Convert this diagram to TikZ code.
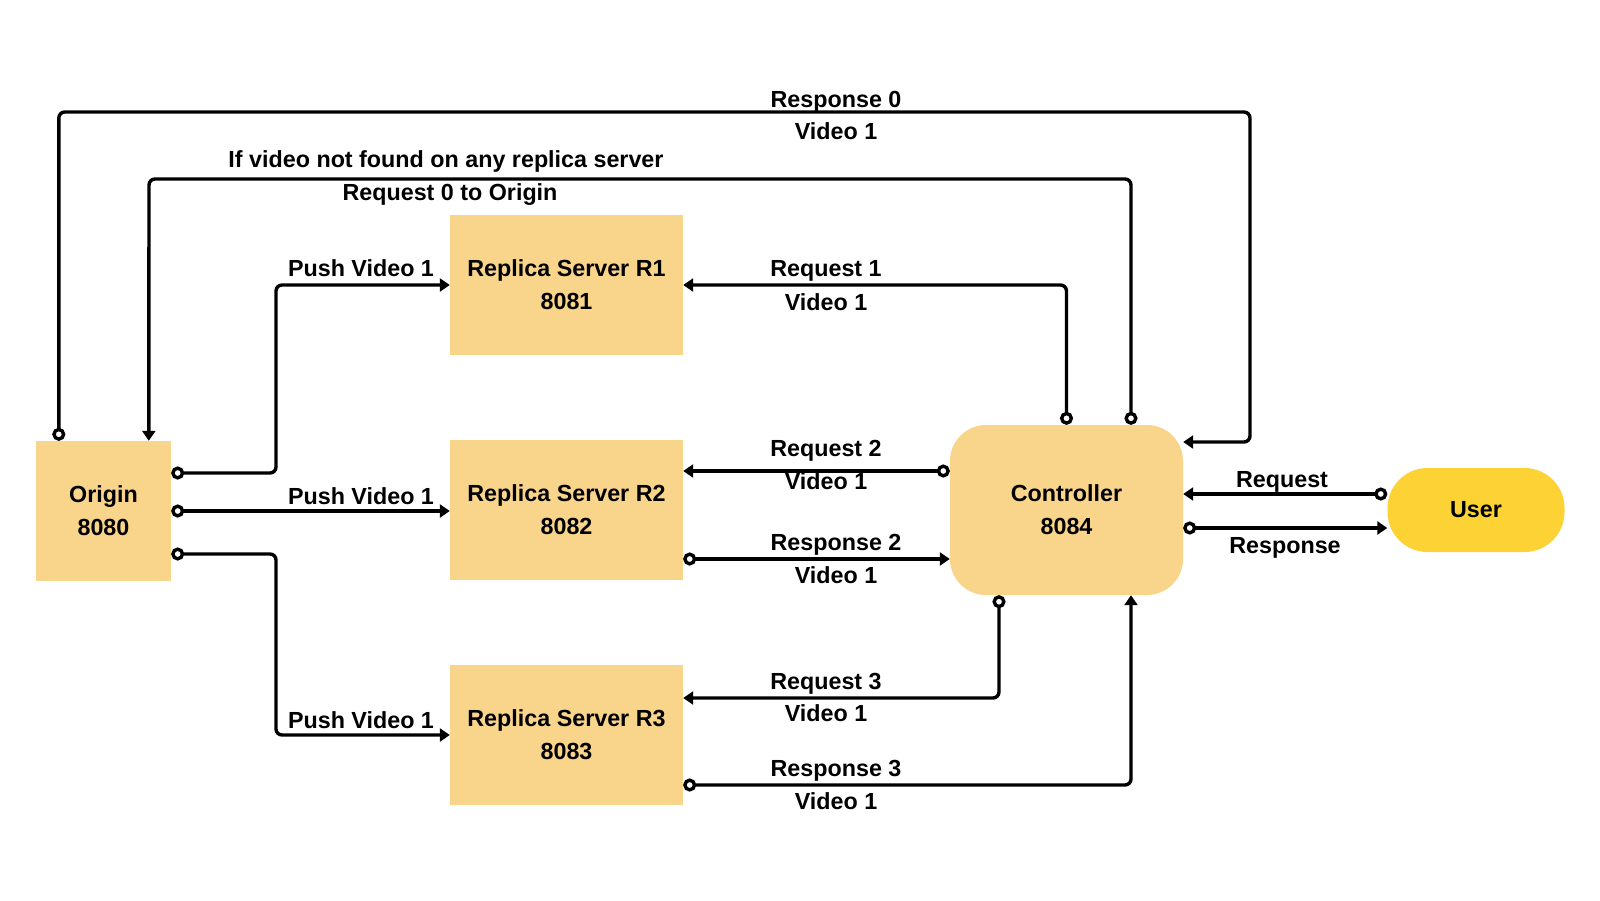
\documentclass[tikz,border=0pt]{standalone}
\usepackage{fontspec}
\setmainfont{Liberation Sans}
\usetikzlibrary{arrows.meta}
\definecolor{boxc}{HTML}{F9D48B}
\definecolor{userc}{HTML}{FDD235}
\begin{document}
\begin{tikzpicture}[x=1pt,y=-1pt,
  every node/.style={font=\fontsize{23.3}{33}\selectfont\bfseries, inner sep=0pt},
  box/.style={fill=boxc, draw=none, align=center, minimum width=233pt, minimum height=140pt},
  lbl/.style={anchor=base},
  conn/.style={line width=3.4pt, rounded corners=6pt,
    arrows={Circle[open,length=13pt,width=13pt]-Triangle[length=10pt,width=13pt]}}]
\fill[white] (0,0) rectangle (1600,900);
\useasboundingbox (0,0) rectangle (1600,900);

% nodes
\node[box, minimum width=135pt] (orig) at (103.5,511) {Origin\\8080};
\node[box] (r1) at (566.5,285) {Replica Server R1\\8081};
\node[box] (r2) at (566.5,510) {Replica Server R2\\8082};
\node[box] (r3) at (566.5,735) {Replica Server R3\\8083};
\node[box, rounded corners=36pt, minimum height=170pt] (ctl) at (1066.5,510) {Controller\\8084};
\node[fill=userc, rounded corners=40pt, minimum width=177pt, minimum height=84pt] (user) at (1476,510) {User};

% ports
\coordinate (oT1) at ([xshift=23pt]orig.north west);
\coordinate (oT2) at ([xshift=113pt]orig.north west);
\coordinate (oE1) at ([yshift=38pt]orig.east);
\coordinate (oE3) at ([yshift=-43pt]orig.east);
\coordinate (cT2) at ([xshift=64.5pt]ctl.north);
\coordinate (cW1) at ([yshift=39pt]ctl.west);
\coordinate (r2E2) at ([yshift=-49pt]r2.east);
\coordinate (cS1) at ([xshift=-67.5pt]ctl.south);
\coordinate (cS2) at ([xshift=64.5pt]ctl.south);
\coordinate (r3E1) at ([yshift=37pt]r3.east);
\coordinate (r3E2) at ([yshift=-50pt]r3.east);
\coordinate (cE1) at ([yshift=68pt]ctl.east);
\coordinate (uW1) at ([yshift=16pt]user.west);
\coordinate (cE3) at ([yshift=-18pt]ctl.east);
% bends
\coordinate (b0) at (1250,112);
\coordinate (b1) at (149,179);
\coordinate (bR1) at (276,285);
\coordinate (bR3) at (276,735);

% connectors
\draw[conn] (oT1) |- (b0) |- (cE1);
\draw[conn] (cT2) |- (b1) -- (oT2);
\draw[conn] (ctl.north) |- (r1.east);
\draw[conn] (oE1) -| (bR1) -- (r1.west);
\draw[conn] (orig.east) -- (orig.east -| r2.west);
\draw[conn] (oE3) -| (bR3) -- (r3.west);
\draw[conn] (cW1) -- (cW1 -| r2.east);
\draw[conn] (r2E2) -- (r2E2 -| ctl.west);
\draw[conn] (cS1) |- (r3E1);
\draw[conn] (r3E2) -| (cS2);
\draw[conn] (uW1) -- (uW1 -| ctl.east);
\draw[conn] (cE3) -- (cE3 -| user.west);

% labels
\node[lbl] (l1) at (836,107) {Response 0};
\node[lbl] (l2) at (836,139) {Video 1};
\node[lbl] (l3) at (446,167) {If video not found on any replica server};
\node[lbl] (l4) at (450,200) {Request 0 to Origin};
\node[lbl] (l5) at (361,276) {Push Video 1};
\node[lbl] (l6) at (361,504) {Push Video 1};
\node[lbl] (l7) at (361,728) {Push Video 1};
\node[lbl] (l8) at (826,276) {Request 1};
\node[lbl] (l9) at (826,310) {Video 1};
\node[lbl] (l10) at (826,456) {Request 2};
\node[lbl] (l11) at (826,489) {Video 1};
\node[lbl] (l12) at (836,550) {Response 2};
\node[lbl] (l13) at (836,583) {Video 1};
\node[lbl] (l14) at (826,689) {Request 3};
\node[lbl] (l15) at (826,721) {Video 1};
\node[lbl] (l16) at (836,776) {Response 3};
\node[lbl] (l17) at (836,809) {Video 1};
\node[lbl] (l18) at (1282,487) {Request};
\node[lbl] (l19) at (1285,553) {Response};
\end{tikzpicture}
\end{document}
